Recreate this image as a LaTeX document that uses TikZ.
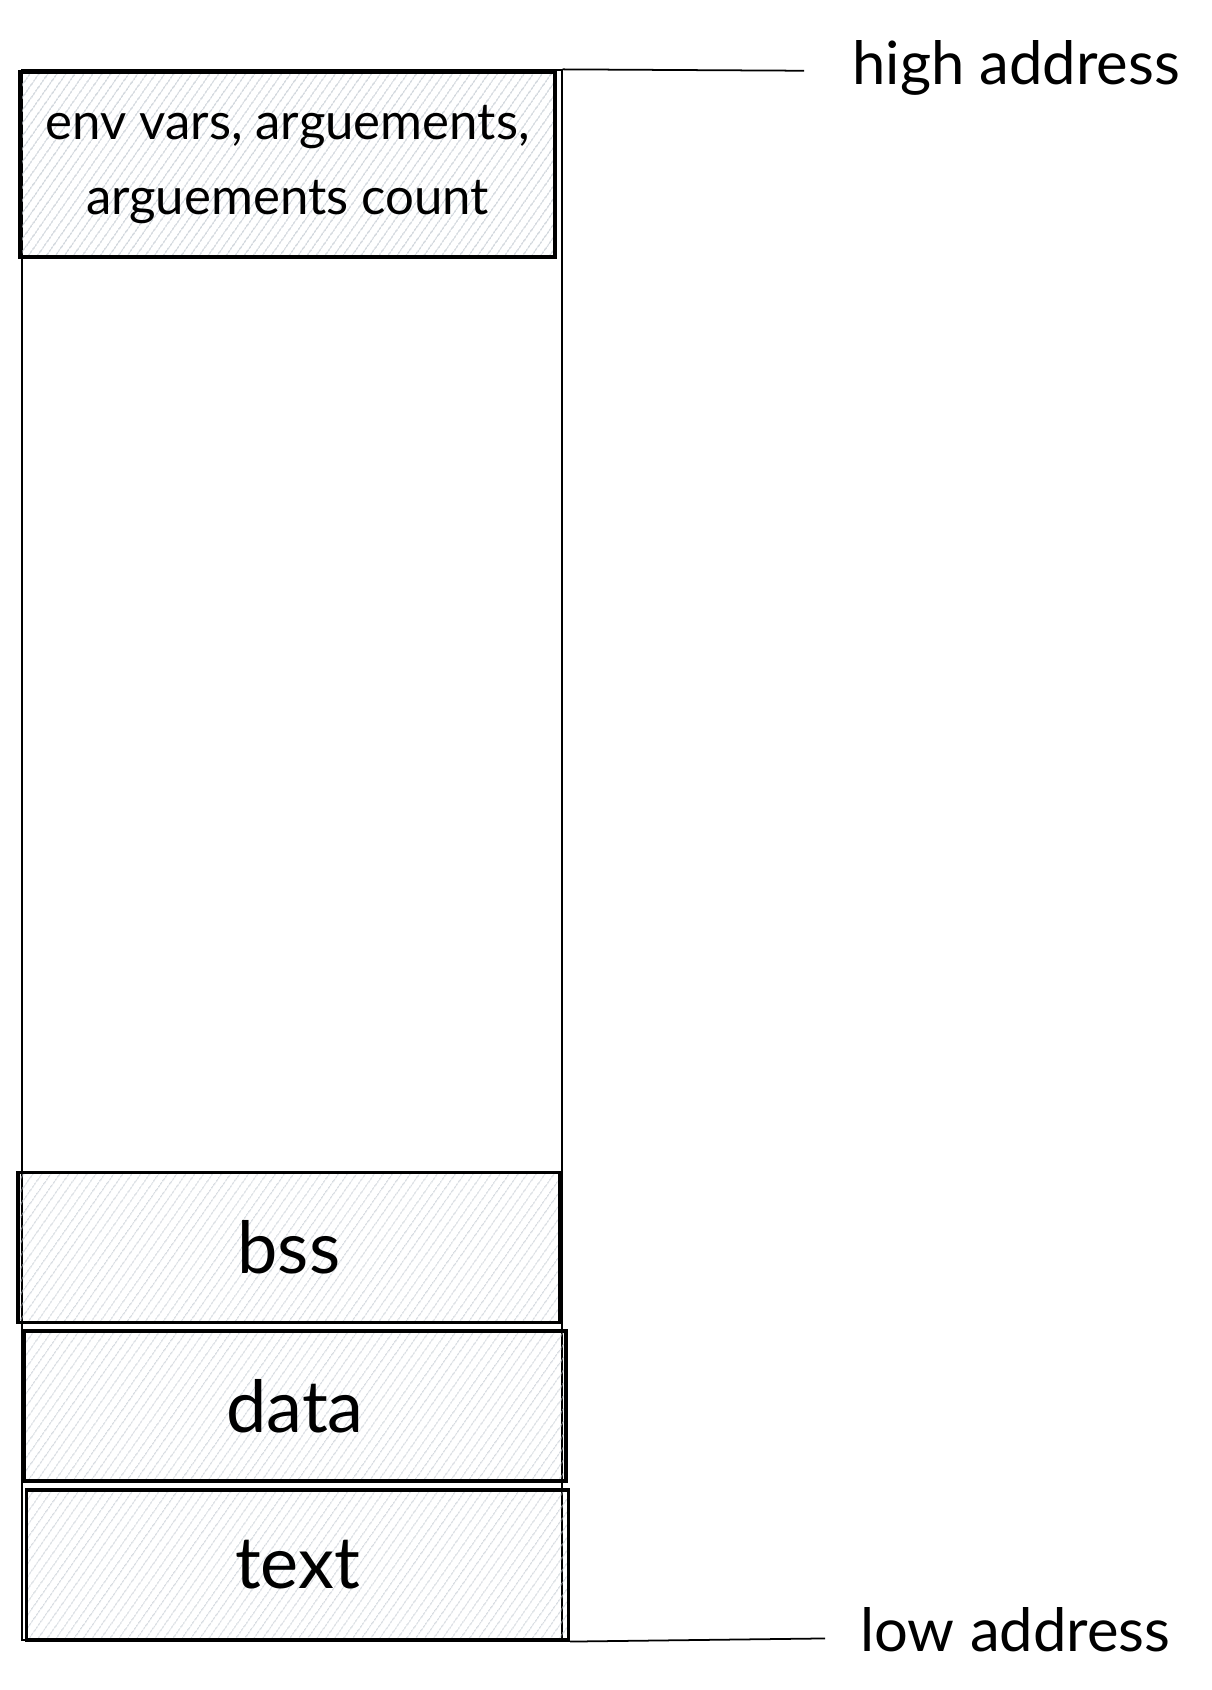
\documentclass[tikz,border=0pt]{standalone}
\usepackage{fontspec}
\setmainfont{Lato}
\usetikzlibrary{patterns.meta}
\definecolor{hatch}{RGB}{192,199,207}

\tikzset{
  segment/.style={draw, line width=1.8pt, pattern={Lines[angle=55,distance=4pt,line width=0.6pt]}, pattern color=hatch,
    minimum width=10.84cm, minimum height=3cm, inner sep=0pt, font=\fontsize{41}{41}\selectfont},
  address/.style={anchor=west, inner sep=0pt, text height=25.5pt, text depth=10pt, font=\fontsize{34}{34}\selectfont},
}

\begin{document}
\begin{tikzpicture}[x=0.02cm, y=-0.02cm]
\useasboundingbox (0,0) rectangle (1212,1690);

 % memory layout
\node[draw, line width=0.9pt, minimum width=10.8cm, minimum height=31.4cm, inner sep=0pt] (mem) at (292,855) {};
\node[segment, minimum width=10.7cm, minimum height=3.7cm, align=center, font=\fontsize{29}{43}\selectfont] (env) at (287.5,164.5) {env vars, arguements,\\arguements count};
\node[segment] (bss) at (289,1247.5) {bss};
\node[segment] (data) at (295,1406) {data};
\node[segment] (text) at (297.5,1565) {text};

 % labels
\node[address] (high) at (852,71) {high address};
\node[address] (low) at (860,1638) {low address};
\draw[line width=1pt, shorten >=0.96cm] (mem.north east) -- (high.west);
\draw[line width=1pt, shorten >=0.7cm] (text.south east) -- (low.west);
\end{tikzpicture}
\end{document}
